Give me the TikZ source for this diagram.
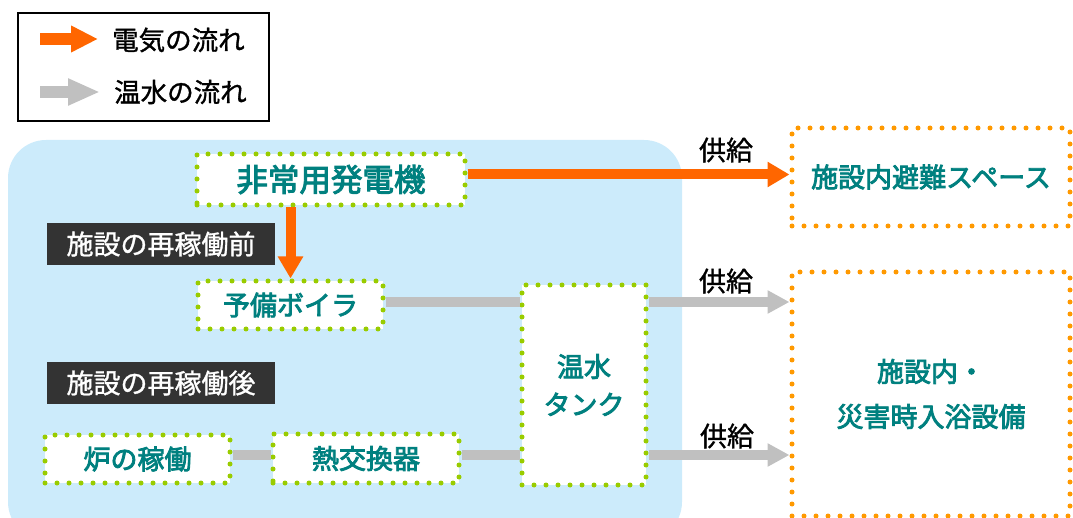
\documentclass[tikz,border=0pt]{standalone}
\usepackage{fontspec}
\setmainfont{Noto Sans CJK JP}
\newfontfamily\jpsemi[FakeBold=3]{Noto Sans CJK JP}
\newfontfamily\jplight[FakeBold=1.2]{Noto Sans CJK JP}
\usetikzlibrary{arrows.meta}
\definecolor{elec}{HTML}{FF6600}
\definecolor{hot}{HTML}{C0C0C0}
\definecolor{dotgreen}{HTML}{99CC00}
\definecolor{dotorange}{HTML}{FF9900}
\definecolor{teal}{HTML}{00807F}
\definecolor{zone}{HTML}{CCEBFB}
\definecolor{darklabel}{HTML}{333333}
\tikzset{
  greenbox/.style={draw=dotgreen, fill=white, line width=5pt, dash pattern=on 0pt off 12pt, line cap=round, text=teal, font=\jpsemi\fontsize{27}{32}\selectfont, inner sep=0pt},
  orangebox/.style={draw=dotorange, fill=white, line width=5pt, dash pattern=on 0pt off 12pt, line cap=round, text=teal, font=\jpsemi\fontsize{27}{32}\selectfont, inner sep=0pt, align=center},
  phase/.style={fill=darklabel, text=white, font=\jplight\fontsize{27}{30}\selectfont, minimum width=228pt, minimum height=42pt, inner sep=0pt},
  elecarrow/.style={draw=elec, line width=10pt, -{Triangle[length=22pt,width=24pt]}},
  hotarrow/.style={draw=hot, line width=10pt, -{Triangle[length=22pt,width=22pt]}},
  hotline/.style={draw=hot, line width=10pt},
  supply/.style={font=\jplight\fontsize{27}{30}\selectfont, text=black, inner sep=0pt},
  legtext/.style={font=\jplight\fontsize{26.5}{30}\selectfont, text=black, inner sep=0pt, anchor=west}
}
\begin{document}
\begin{tikzpicture}[x=1pt,y=-1pt]
\useasboundingbox (0,0) rectangle (1073,518);
% legend
\node[draw=black, line width=2pt, minimum width=251pt, minimum height=108pt, inner sep=0pt] (legend) at (143.5,67) {};
\coordinate (la1) at (40,39);
\coordinate (lb1) at (98,39);
\coordinate (la2) at (40,92);
\coordinate (lb2) at (100,92);
\draw[draw=elec, line width=12pt, -{Triangle[length=27pt,width=25pt]}] (la1) -- (lb1);
\draw[draw=hot, line width=12pt, -{Triangle[length=32pt,width=25pt]}] (la2) -- (lb2);
\node[legtext] (lt1) at (112,40) {電気の流れ};
\node[legtext] (lt2) at (114,92) {温水の流れ};
% zone
\fill[zone, rounded corners=38pt] (8,140) rectangle (682,540);
% nodes
\node[greenbox, minimum width=268pt, minimum height=51pt, font=\jpsemi\fontsize{31.5}{34}\selectfont] (gen) at (331,179.5) {非常用発電機};
\node[phase] (before) at (161,244) {施設の再稼働前};
\node[phase] (after) at (161,383) {施設の再稼働後};
\node[greenbox, minimum width=185pt, minimum height=48pt] (boiler) at (290.5,305) {予備ボイラ};
\node[greenbox, minimum width=124pt, minimum height=200pt, align=center, font=\jpsemi\fontsize{27}{38}\selectfont] (tank) at (584,385) {温水\\タンク};
\node[greenbox, minimum width=185pt, minimum height=48pt] (furnace) at (137.5,459) {炉の稼働};
\node[greenbox, minimum width=186pt, minimum height=49pt] (hx) at (366,458.5) {熱交換器};
\node[orangebox, minimum width=278pt, minimum height=98pt] (evac) at (931,177) {施設内避難スペース};
\node[orangebox, minimum width=278pt, minimum height=244pt, font=\jpsemi\fontsize{27}{45}\selectfont] (bath) at (931,394) {施設内・\\災害時入浴設備};
% connectors
\draw[elecarrow] ([yshift=5pt]gen.east) -- ([yshift=2.5pt]evac.west);
\draw[elecarrow] (boiler.north |- gen.south) -- (boiler.north);
\draw[hotline] ([yshift=3pt]boiler.east) -- (tank.west |- 0,302);
\draw[hotline] ([yshift=4pt]furnace.east) -- ([yshift=3.5pt]hx.west);
\draw[hotline] ([yshift=3.5pt]hx.east) -- (tank.west |- 0,455);
\draw[hotarrow] (tank.east |- 0,302) -- (bath.west |- 0,302);
\draw[hotarrow] (tank.east |- 0,455) -- (bath.west |- 0,455);
% supply labels
\node[supply] (s1) at (726,150) {供給};
\node[supply] (s2) at (726,281) {供給};
\node[supply] (s3) at (727,436) {供給};
\end{tikzpicture}
\end{document}
